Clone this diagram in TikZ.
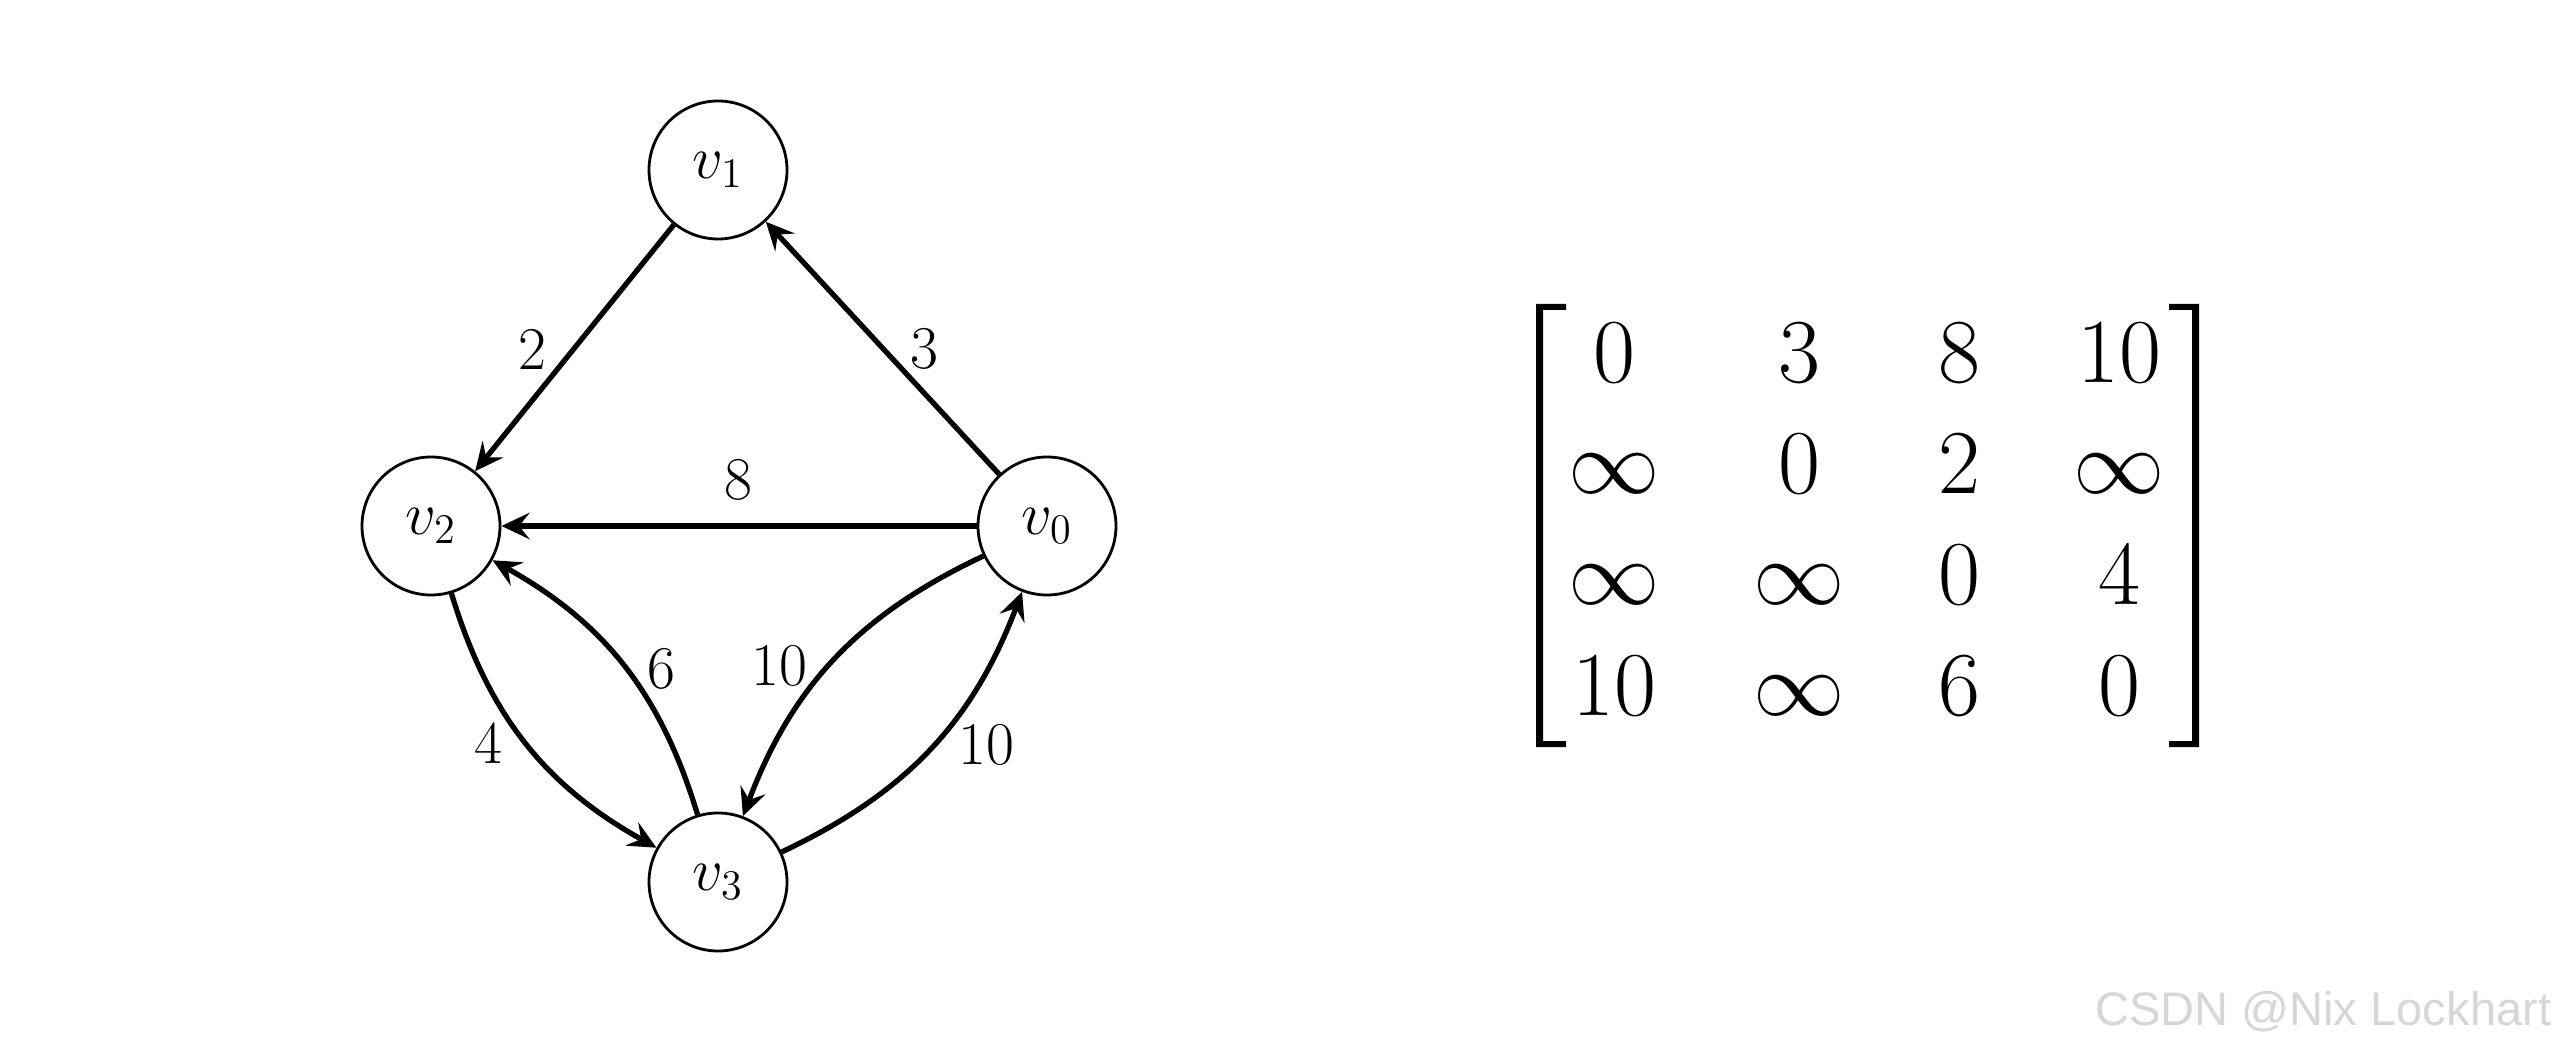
\RequirePackage{fix-cm}
\documentclass[tikz,border=0pt]{standalone}
\usepackage{amsmath}
\usepackage{fontspec}
\newfontfamily\wmfont{Liberation Sans}
\usetikzlibrary{arrows.meta}
\definecolor{wmcol}{RGB}{214, 214, 214}

\begin{document}
\begin{tikzpicture}[
      vtx/.style={circle, draw, line width=0.8pt, minimum size=1.38cm, inner sep=0pt, font=\LARGE},
      wt/.style={font=\LARGE, inner sep=0pt},
      edge/.style={-{Stealth[length=8pt, width=7.5pt, inset=3pt]}, line width=1.5pt}]
      \useasboundingbox (0,0) rectangle (25.6,10.53);

      % sommets
      \node[vtx] (v1) at (7.18, 8.83) {$v_1$};
      \node[vtx] (v2) at (4.31, 5.27) {$v_2$};
      \node[vtx] (v0) at (10.47, 5.27) {$v_0$};
      \node[vtx] (v3) at (7.18, 1.71) {$v_3$};

      % arcs
      \draw[edge] (v1) -- (v2);
      \draw[edge] (v0) -- (v1);
      \draw[edge] (v0) -- (v2);
      \draw[edge] (v2) to[bend right=22] (v3);
      \draw[edge] (v3) to[bend right=22] (v2);
      \draw[edge] (v0) to[bend right=22] (v3);
      \draw[edge] (v3) to[bend right=22] (v0);

      % poids
      \node[wt] (w12) at (5.32, 7.04) {2};
      \node[wt] (w01) at (9.24, 7.04) {3};
      \node[wt] (w02) at (7.38, 5.73) {8};
      \node[wt] (w32) at (6.61, 3.84) {6};
      \node[wt] (w03) at (7.79, 3.87) {10};
      \node[wt] (w23) at (4.88, 3.10) {4};
      \node[wt] (w30) at (9.86, 3.08) {10};

      % matrice
      \node[inner sep=0pt] (adj) at (18.67, 5.265) {\fontsize{26}{31.6}\selectfont
        \setlength{\arraycolsep}{13.3pt}%
        $\begin{matrix}
          0 & 3 & 8 & 10\\
          \infty & 0 & 2 & \infty\\
          \infty & \infty & 0 & 4\\
          10 & \infty & 6 & 0
        \end{matrix}$};
      % crochets
      \fill (15.36,7.49) -- (15.66,7.49) -- (15.66,7.43) -- (15.43,7.43) -- (15.43,3.12)
        -- (15.66,3.12) -- (15.66,3.06) -- (15.36,3.06) -- cycle;
      \fill (21.99,7.49) -- (21.69,7.49) -- (21.69,7.43) -- (21.92,7.43) -- (21.92,3.12)
        -- (21.69,3.12) -- (21.69,3.06) -- (21.99,3.06) -- cycle;

      \node[anchor=base east, inner sep=0pt, font=\wmfont\fontsize{13.4}{16}\selectfont, text=wmcol] (wm) at (25.52, 0.28) {CSDN @Nix Lockhart};
    \end{tikzpicture}
\end{document}
